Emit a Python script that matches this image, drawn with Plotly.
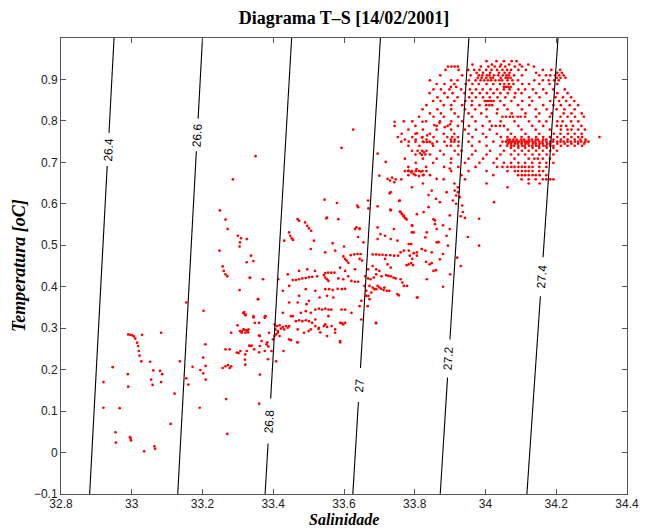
import math
import plotly.graph_objects as go

# ---------------- isopycnals (sigma-t) ----------------
iso_label_text = ["26.4", "26.6", "26.8", "27", "27.2", "27.4"]
iso_sal_bottom = [32.881, 33.130, 33.377, 33.625, 33.872, 34.117]   # salinity at T = -0.1
iso_sal_top = [32.950, 33.200, 33.452, 33.703, 33.953, 34.205]      # salinity at T = 1.0
iso_label_temp = [0.731, 0.766, 0.076, 0.163, 0.227, 0.424]         # label position (T)
iso_gap_half = [0.040, 0.039, 0.054, 0.041, 0.046, 0.047]           # half-length of label gap (T)

x_ticks = [32.8, 33.0, 33.2, 33.4, 33.6, 33.8, 34.0, 34.2, 34.4]
y_ticks = [-0.1, 0, 0.1, 0.2, 0.3, 0.4, 0.5, 0.6, 0.7, 0.8, 0.9]

# ---------------- observations (salinity, temperature) ----------------
pts_low = [
    (32.990, 0.285), (32.996, 0.284), (33.001, 0.283), (33.006, 0.280), (33.010, 0.275),
    (33.015, 0.265), (33.018, 0.257), (33.020, 0.245), (33.022, 0.234), (33.027, 0.220),
    (33.029, 0.284), (33.083, 0.289), (32.946, 0.206), (32.920, 0.170), (32.989, 0.189),
    (32.990, 0.159), (33.052, 0.219), (33.061, 0.198), (33.055, 0.176), (33.059, 0.163),
    (33.080, 0.197), (33.086, 0.189), (33.083, 0.170), (33.121, 0.142), (33.136, 0.220),
    (32.920, 0.108), (32.966, 0.107), (32.954, 0.049), (32.955, 0.024), (32.995, 0.037),
    (32.997, 0.033), (32.998, 0.029), (33.035, 0.003), (33.064, 0.015), (33.066, 0.009),
    (33.110, 0.069),
]

pts_lower_mid = [
    (33.203, 0.342), (33.208, 0.261), (33.202, 0.229), (33.172, 0.207), (33.194, 0.199),
    (33.209, 0.209), (33.202, 0.191), (33.209, 0.176), (33.154, 0.179), (33.160, 0.164),
    (33.192, 0.108), (33.267, 0.129), (33.270, 0.045), (33.257, 0.204), (33.265, 0.208),
    (33.272, 0.211), (33.277, 0.204), (33.281, 0.208), (33.265, 0.249), (33.277, 0.249),
    (33.281, 0.289), (33.307, 0.293), (33.311, 0.291), (33.316, 0.296), (33.321, 0.289),
    (33.327, 0.293), (33.299, 0.307), (33.316, 0.336), (33.321, 0.331), (33.344, 0.326),
    (33.360, 0.313), (33.376, 0.328), (33.360, 0.283), (33.332, 0.258), (33.346, 0.249),
    (33.360, 0.242), (33.383, 0.266), (33.386, 0.256), (33.385, 0.225), (33.388, 0.289),
    (33.395, 0.245), (33.321, 0.237), (33.297, 0.241), (33.307, 0.245), (33.321, 0.212),
    (33.362, 0.188), (33.360, 0.118),
    (33.350, 0.715), (33.286, 0.659), (33.249, 0.584), (33.265, 0.562), (33.271, 0.539),
    (33.300, 0.523), (33.309, 0.517), (33.306, 0.507), (33.305, 0.497), (33.248, 0.487),
    (33.337, 0.475), (33.325, 0.459), (33.257, 0.449), (33.260, 0.438), (33.265, 0.430),
    (33.270, 0.425), (33.334, 0.421), (33.305, 0.392), (33.154, 0.362), (33.318, 0.339),
    (33.322, 0.333),
    (33.306, 0.293), (33.316, 0.297), (33.323, 0.295), (33.329, 0.290), (33.311, 0.289),
    (33.316, 0.337), (33.348, 0.313), (33.357, 0.370), (33.378, 0.329), (33.362, 0.257),
    (33.376, 0.245), (33.334, 0.257), (33.320, 0.224), (33.325, 0.245), (33.302, 0.240),
    (33.408, 0.220), (33.429, 0.245), (33.450, 0.271), (33.468, 0.266), (33.413, 0.289),
    (33.403, 0.281), (33.399, 0.273), (33.510, 0.313), (33.528, 0.298), (33.547, 0.309),
    (33.565, 0.305), (33.500, 0.293), (33.533, 0.290), (33.519, 0.321), (33.556, 0.329),
    (33.575, 0.297), (33.589, 0.269), (33.450, 0.329), (33.690, 0.313), (33.649, 0.321),
    (33.663, 0.378), (33.672, 0.370), (33.677, 0.386), (33.686, 0.394), (33.714, 0.398),
    (33.695, 0.402), (33.728, 0.390), (33.751, 0.382), (33.778, 0.402), (33.806, 0.374),
    (33.667, 0.353), (33.649, 0.366),
]

pts_mid = [
    (33.545, 0.610), (33.580, 0.602), (33.637, 0.596), (33.729, 0.625), (33.756, 0.607),
    (33.839, 0.621), (33.848, 0.632), (33.860, 0.612), (33.731, 0.586),
    (33.758, 0.581), (33.764, 0.576), (33.769, 0.571), (33.774, 0.565), (33.777, 0.562),
    (33.806, 0.575), (33.839, 0.592), (33.857, 0.551), (33.867, 0.508),
    (33.550, 0.565), (33.469, 0.563), (33.473, 0.559), (33.490, 0.555), (33.496, 0.547),
    (33.501, 0.541), (33.507, 0.535), (33.445, 0.531), (33.448, 0.523), (33.452, 0.517),
    (33.456, 0.513), (33.431, 0.511), (33.515, 0.511), (33.568, 0.505), (33.631, 0.539),
    (33.644, 0.541), (33.655, 0.507), (33.668, 0.608), (33.669, 0.589), (33.695, 0.543),
    (33.703, 0.527), (33.716, 0.523), (33.732, 0.515), (33.751, 0.511), (33.793, 0.547),
    (33.797, 0.531), (33.830, 0.519), (33.790, 0.503),
    (33.506, 0.491), (33.547, 0.483), (33.575, 0.487), (33.598, 0.473), (33.603, 0.467),
    (33.607, 0.463), (33.612, 0.458),
    (33.619, 0.476), (33.629, 0.478), (33.638, 0.479), (33.647, 0.479), (33.644, 0.467),
    (33.651, 0.463),
    (33.681, 0.478), (33.691, 0.478), (33.700, 0.477), (33.709, 0.477), (33.719, 0.476),
    (33.731, 0.476), (33.742, 0.475), (33.753, 0.475),
    (33.760, 0.483), (33.769, 0.487), (33.783, 0.487), (33.797, 0.481), (33.806, 0.483),
    (33.820, 0.491), (33.830, 0.487), (33.786, 0.475), (33.793, 0.467),
    (33.777, 0.452), (33.783, 0.454), (33.790, 0.457), (33.795, 0.452),
    (33.832, 0.460), (33.848, 0.457), (33.842, 0.454), (33.853, 0.438), (33.871, 0.466),
    (33.834, 0.418), (33.716, 0.467), (33.723, 0.454), (33.732, 0.446),
    (33.719, 0.428), (33.725, 0.426), (33.732, 0.425), (33.740, 0.422), (33.746, 0.420),
    (33.760, 0.418), (33.765, 0.410), (33.769, 0.402),
    (33.681, 0.450), (33.691, 0.442), (33.700, 0.438), (33.668, 0.442), (33.660, 0.425),
    (33.668, 0.420), (33.675, 0.418), (33.684, 0.422),
    (33.672, 0.402), (33.681, 0.398), (33.691, 0.394), (33.700, 0.398), (33.705, 0.395),
    (33.712, 0.392), (33.721, 0.390), (33.691, 0.430), (33.706, 0.425),
    (33.658, 0.402), (33.663, 0.390), (33.669, 0.378), (33.691, 0.312), (33.755, 0.379),
    (33.808, 0.374),
    (33.547, 0.433), (33.555, 0.434), (33.564, 0.434), (33.573, 0.434), (33.543, 0.428),
    (33.547, 0.422), (33.552, 0.418), (33.556, 0.414),
    (33.455, 0.416), (33.464, 0.416), (33.473, 0.418), (33.482, 0.420), (33.492, 0.421),
    (33.501, 0.423), (33.510, 0.424), (33.524, 0.425),
    (33.518, 0.438), (33.496, 0.442), (33.473, 0.438), (33.441, 0.430), (33.414, 0.418),
    (33.427, 0.390), (33.445, 0.402),
    (33.584, 0.420), (33.598, 0.418), (33.612, 0.425), (33.621, 0.414), (33.631, 0.412),
    (33.640, 0.412), (33.603, 0.438), (33.631, 0.442), (33.589, 0.446),
    (33.547, 0.394), (33.558, 0.394), (33.568, 0.392), (33.582, 0.395), (33.594, 0.394),
    (33.603, 0.395), (33.552, 0.378), (33.570, 0.374), (33.519, 0.390), (33.492, 0.394),
    (33.473, 0.378), (33.501, 0.366), (33.531, 0.374),
    (33.445, 0.362), (33.469, 0.362), (33.494, 0.358),
    (33.519, 0.345), (33.529, 0.347), (33.538, 0.345), (33.547, 0.347), (33.556, 0.345),
    (33.564, 0.345), (33.593, 0.345), (33.603, 0.345), (33.621, 0.337), (33.644, 0.353),
    (33.478, 0.337), (33.492, 0.341), (33.506, 0.337), (33.427, 0.337), (33.455, 0.329),
    (33.464, 0.317), (33.473, 0.319), (33.482, 0.317), (33.492, 0.319), (33.501, 0.317),
    (33.404, 0.309), (33.410, 0.305), (33.418, 0.307), (33.427, 0.303), (33.436, 0.305),
    (33.445, 0.305), (33.406, 0.297), (33.413, 0.293), (33.422, 0.299), (33.431, 0.297),
    (33.441, 0.301), (33.408, 0.285), (33.418, 0.281),
    (33.519, 0.305), (33.529, 0.301), (33.543, 0.305), (33.552, 0.303), (33.589, 0.313),
    (33.594, 0.312), (33.598, 0.309), (33.603, 0.313), (33.469, 0.297), (33.487, 0.289),
    (33.506, 0.297), (33.575, 0.289), (33.552, 0.281), (33.589, 0.266), (33.469, 0.266),
    (33.445, 0.273),
    (33.334, 0.422), (33.371, 0.418), (33.357, 0.370), (33.344, 0.329), (33.376, 0.325),
    (33.330, 0.297), (33.362, 0.281), (33.381, 0.261), (33.339, 0.258), (33.367, 0.269),
    (33.344, 0.462), (33.325, 0.515),
    (33.920, 0.470), (33.930, 0.450), (33.950, 0.520), (33.900, 0.430), (33.880, 0.400),
    (33.860, 0.440),
]

pts_upper_mid = [
    (33.626, 0.779), (33.593, 0.735), (33.743, 0.798), (33.769, 0.799), (33.822, 0.798),
    (33.855, 0.790), (33.870, 0.795), (33.885, 0.785), (33.900, 0.792),
    (33.806, 0.770), (33.820, 0.760), (33.835, 0.765), (33.850, 0.745), (33.825, 0.749),
    (33.834, 0.749), (33.843, 0.749),
    (33.815, 0.722), (33.820, 0.718), (33.826, 0.724), (33.830, 0.719),
    (33.783, 0.680), (33.790, 0.676), (33.797, 0.672), (33.805, 0.684), (33.812, 0.667),
    (33.818, 0.678), (33.825, 0.670),
    (33.723, 0.660), (33.730, 0.656), (33.736, 0.663), (33.742, 0.652), (33.746, 0.659),
    (33.718, 0.701), (33.695, 0.721), (33.700, 0.668), (33.732, 0.628), (33.758, 0.608),
    (33.760, 0.580), (33.764, 0.575), (33.768, 0.570), (33.772, 0.566),
    (33.695, 0.594), (33.792, 0.548), (33.732, 0.584), (33.825, 0.580), (33.853, 0.563),
    (33.871, 0.604), (33.890, 0.628), (33.862, 0.660), (33.899, 0.685), (33.640, 0.592),
    (33.584, 0.563), (33.552, 0.567), (33.635, 0.543), (33.644, 0.539), (33.741, 0.539),
    (33.695, 0.515), (33.792, 0.531), (33.783, 0.503), (33.640, 0.520), (33.600, 0.497),
    (33.862, 0.539), (33.862, 0.507), (33.899, 0.572), (33.899, 0.539),
    (33.913, 0.632), (33.922, 0.628), (33.917, 0.620), (33.927, 0.616), (33.917, 0.600),
    (33.934, 0.596), (33.936, 0.580), (33.908, 0.608), (33.930, 0.570), (33.942, 0.566),
    (33.857, 0.560), (33.880, 0.548), (33.834, 0.531), (33.890, 0.523), (33.866, 0.507),
    (33.894, 0.499), (33.820, 0.491), (33.848, 0.483), (33.806, 0.475), (33.880, 0.479),
    (33.982, 0.564), (34.024, 0.604), (33.982, 0.499),
]

# warm, salty cloud: (temperature of a sampled row, salinities on that row)
rows_warm = [
    (0.944, [34.003, 34.031, 34.052, 34.074, 34.088]),
    (0.936, [33.963, 34.018, 34.044, 34.067, 34.097, 34.121]),
    (0.931, [33.894, 33.904, 33.913, 33.922, 33.987, 34.008, 34.026, 34.041, 34.056,
             34.083, 34.103, 34.137]),
    (0.923, [33.887, 33.924, 33.951, 33.968, 33.983, 34.002, 34.017, 34.033, 34.048,
             34.061, 34.072, 34.093, 34.114, 34.162, 34.186, 34.211]),
    (0.916, [33.975, 33.993, 34.013, 34.038, 34.054, 34.068, 34.143, 34.203, 34.216]),
    (0.910, [33.872, 33.934, 33.958, 33.981, 33.991, 34.004, 34.011, 34.024, 34.036,
             34.049, 34.059, 34.066, 34.081, 34.103, 34.152, 34.171, 34.183, 34.197,
             34.208, 34.221]),
    (0.904, [33.978, 33.989, 34.002, 34.014, 34.021, 34.043, 34.057, 34.063, 34.071,
             34.201, 34.212, 34.226]),
    (0.898, [33.843, 33.903, 33.921, 33.953, 33.972, 33.986, 33.996, 34.007, 34.016,
             34.028, 34.039, 34.047, 34.062, 34.076, 34.092, 34.138, 34.162, 34.179,
             34.194, 34.207]),
    (0.889, [33.862, 33.884, 33.912, 33.944, 33.963, 33.981, 34.003, 34.022, 34.041,
             34.053, 34.066, 34.079, 34.104, 34.123, 34.152, 34.181, 34.203]),
    (0.882, [33.902, 33.917, 34.052, 34.058, 34.064, 34.071]),
    (0.876, [33.853, 33.874, 33.898, 33.931, 33.956, 33.973, 33.992, 34.014, 34.033,
             34.052, 34.068, 34.093, 34.112, 34.134, 34.163, 34.192, 34.224]),
    (0.867, [33.842, 33.884, 33.907, 33.941, 33.962, 33.984, 34.004, 34.023, 34.042,
             34.063, 34.084, 34.102, 34.143, 34.172, 34.203, 34.232]),
    (0.857, [33.864, 33.893, 33.921, 33.954, 33.973, 33.993, 34.012, 34.034, 34.056,
             34.082, 34.124, 34.153, 34.198, 34.219, 34.242]),
    (0.848, [33.852, 33.873, 33.912, 33.943, 33.962, 33.998, 34.004, 34.009, 34.016,
             34.023, 34.042, 34.073, 34.104, 34.132, 34.183, 34.208, 34.228, 34.251]),
    (0.838, [33.833, 33.882, 33.903, 33.934, 33.961, 33.983, 34.002, 34.011, 34.019,
             34.053, 34.092, 34.124, 34.163, 34.192, 34.213, 34.238, 34.262]),
    (0.828, [33.822, 33.864, 33.903, 33.942, 33.971, 34.003, 34.034, 34.062, 34.103,
             34.142, 34.173, 34.201, 34.223, 34.252]),
    (0.818, [33.843, 33.874, 33.913, 33.952, 33.988, 34.032, 34.074, 34.113, 34.152,
             34.187, 34.221, 34.243, 34.272]),
    (0.810, [33.812, 33.853, 33.882, 33.923, 33.962, 34.003, 34.048, 34.058, 34.069,
             34.078, 34.091, 34.099, 34.112, 34.143, 34.182, 34.212, 34.232, 34.253,
             34.278]),
    (0.799, [33.793, 33.832, 33.871, 33.903, 33.934, 33.972, 34.012, 34.043, 34.082,
             34.123, 34.152, 34.172, 34.203, 34.218, 34.242, 34.262]),
    (0.788, [33.743, 33.802, 33.862, 33.893, 33.922, 33.953, 33.992, 34.018, 34.029,
             34.041, 34.052, 34.093, 34.132, 34.163, 34.202, 34.214, 34.228, 34.247,
             34.271]),
    (0.779, [33.782, 33.823, 33.862, 33.903, 33.942, 33.973, 34.012, 34.063, 34.102,
             34.142, 34.182, 34.213, 34.232, 34.243, 34.262, 34.281]),
    (0.769, [33.763, 33.802, 33.843, 33.882, 33.912, 33.952, 33.993, 34.032, 34.072,
             34.113, 34.152, 34.193, 34.212, 34.233, 34.252, 34.272]),
    (0.761, [33.752, 33.793, 33.822, 33.853, 33.892, 33.906, 33.922, 33.963, 34.002,
             34.043, 34.062, 34.083, 34.102, 34.122, 34.143, 34.163, 34.182, 34.203,
             34.222, 34.243, 34.262, 34.273, 34.322]),
    (0.755, [33.772, 33.803, 33.833, 33.902, 33.913, 34.062, 34.068, 34.079, 34.088,
             34.101, 34.109, 34.122, 34.131, 34.142, 34.148, 34.163, 34.172, 34.192,
             34.213, 34.232, 34.252, 34.268, 34.283]),
    (0.750, [33.762, 33.783, 33.802, 33.823, 33.842, 33.863, 33.884, 33.903, 33.912,
             33.924, 33.952, 33.983, 34.022, 34.048, 34.058, 34.066, 34.071, 34.077,
             34.084, 34.091, 34.096, 34.104, 34.112, 34.117, 34.124, 34.133, 34.141,
             34.152, 34.161, 34.172, 34.183, 34.191, 34.203, 34.212, 34.221, 34.232,
             34.241, 34.253, 34.262, 34.271, 34.282, 34.291]),
    (0.745, [34.063, 34.072, 34.083, 34.091, 34.102, 34.113, 34.121, 34.134, 34.142,
             34.153, 34.162, 34.174, 34.182, 34.203, 34.224, 34.243, 34.262, 34.279]),
    (0.740, [33.782, 33.813, 33.852, 33.891, 33.902, 33.923, 33.962, 34.003, 34.042,
             34.061, 34.073, 34.081, 34.093, 34.104, 34.111, 34.123, 34.132, 34.143,
             34.151, 34.164, 34.172, 34.183, 34.192, 34.213, 34.232, 34.252, 34.273]),
    (0.735, [34.072, 34.093, 34.112, 34.133, 34.152, 34.173, 34.192]),
    (0.728, [33.792, 33.808, 33.821, 33.833, 33.872, 33.913, 33.932, 33.972, 34.013,
             34.052, 34.082, 34.103, 34.122, 34.143, 34.162, 34.183, 34.202]),
    (0.719, [33.802, 33.843, 33.882, 33.923, 33.962, 34.003, 34.042, 34.072, 34.093,
             34.112, 34.133, 34.152, 34.173, 34.192]),
    (0.709, [33.772, 33.823, 33.862, 33.903, 33.952, 33.993, 34.032, 34.082, 34.122,
             34.138, 34.148, 34.162, 34.182]),
    (0.699, [33.803, 33.852, 33.902, 33.942, 33.983, 34.023, 34.052, 34.072, 34.093,
             34.112, 34.132, 34.153, 34.172, 34.192]),
    (0.689, [33.782, 33.832, 33.883, 33.923, 33.972, 34.033, 34.048, 34.062, 34.073,
             34.082, 34.093, 34.103, 34.112, 34.123, 34.133, 34.152, 34.172]),
    (0.679, [33.772, 33.781, 33.792, 33.803, 33.812, 33.822, 33.833, 33.903, 33.952,
             34.003, 34.062, 34.083, 34.092, 34.103, 34.113, 34.122, 34.133, 34.152,
             34.163]),
    (0.669, [33.782, 33.802, 33.823, 33.843, 33.932, 34.022, 34.092, 34.103, 34.112,
             34.122, 34.133, 34.142, 34.153, 34.172]),
    (0.659, [33.762, 33.882, 33.942, 34.102, 34.122, 34.142, 34.162, 34.172, 34.183,
             34.192]),
    (0.649, [33.823, 33.912, 34.003, 34.122, 34.153]),
    (0.640, [33.792, 33.922, 34.062]),
]

# ---------------- build traces ----------------
sal, temp = [], []
for group in (pts_low, pts_lower_mid, pts_mid, pts_upper_mid):
    for s, t in group:
        sal.append(s)
        temp.append(t)
for t, svals in rows_warm:
    for s in svals:
        sal.append(s)
        temp.append(t)

T_MIN, T_MAX = -0.1, 1.0
X_RANGE = [32.8, 34.4]
Y_RANGE = [-0.1, 1.0]
# the page body adds an 8px offset, so the figure is sized to fit the window
W, H = 643, 520
ML, MR, MT, MB = 53, 14, 30, 34
plot_w = W - ML - MR
plot_h = H - MT - MB


def sal_at(i, t):
    f = (t - T_MIN) / (T_MAX - T_MIN)
    return iso_sal_bottom[i] + (iso_sal_top[i] - iso_sal_bottom[i]) * f


line_x, line_y = [], []
annotations = []
for i, lab in enumerate(iso_label_text):
    lo = iso_label_temp[i] - iso_gap_half[i]
    hi = iso_label_temp[i] + iso_gap_half[i]
    line_x += [sal_at(i, T_MIN), sal_at(i, lo), None, sal_at(i, hi), sal_at(i, T_MAX), None]
    line_y += [T_MIN, lo, None, hi, T_MAX, None]
    dx_px = (iso_sal_top[i] - iso_sal_bottom[i]) / (X_RANGE[1] - X_RANGE[0]) * plot_w
    dy_px = (T_MAX - T_MIN) / (Y_RANGE[1] - Y_RANGE[0]) * plot_h
    ang = -90 + math.degrees(math.atan2(dx_px, dy_px))
    annotations.append(dict(
        x=sal_at(i, iso_label_temp[i]), y=iso_label_temp[i], xref="x", yref="y",
        text=lab, showarrow=False, textangle=ang,
        font=dict(family="Liberation Sans, Arial", size=12, color="black"),
        xanchor="center", yanchor="middle"))

fig = go.Figure()
fig.add_trace(go.Scatter(
    x=sal, y=temp, mode="markers",
    marker=dict(color="#ff0000", size=2.7, line=dict(width=0)),
    hoverinfo="skip", showlegend=False))
fig.add_trace(go.Scatter(
    x=line_x, y=line_y, mode="lines",
    line=dict(color="black", width=1.1),
    hoverinfo="skip", showlegend=False))

annotations.append(dict(
    x=0.5, y=0, xref="paper", yref="paper", yshift=-25,
    text="<b><i>Salinidade</i></b>",
    showarrow=False, xanchor="center", yanchor="middle",
    font=dict(family="Liberation Serif, Times New Roman", size=16, color="black")))
annotations.append(dict(
    x=0, y=0.5, xref="paper", yref="paper", xshift=-42,
    text="<b><i>Temperatura [oC]</i></b>",
    showarrow=False, xanchor="center", yanchor="middle", textangle=-90,
    font=dict(family="Liberation Serif, Times New Roman", size=18, color="black")))

axis_common = dict(
    showgrid=False, zeroline=False, showline=True, linecolor="#555555", linewidth=1,
    mirror="ticks", ticks="inside", ticklen=5, tickcolor="#555555", tickwidth=1,
    tickfont=dict(family="Liberation Sans, Arial", size=12, color="#222222"),
)

fig.update_layout(
    width=W, height=H,
    margin=dict(l=ML, r=MR, t=MT, b=MB),
    paper_bgcolor="white", plot_bgcolor="white",
    title=dict(text="<b>Diagrama T–S [14/02/2001]</b>", x=0.5, xref="paper",
               y=1 - 10 / H, yref="container", yanchor="middle", xanchor="center",
               font=dict(family="Liberation Serif, Times New Roman", size=18, color="black")),
    xaxis=dict(range=X_RANGE, tickvals=x_ticks, ticklabelstandoff=-1,
               ticktext=[f"{v:g}" for v in x_ticks], **axis_common),
    yaxis=dict(range=Y_RANGE, tickvals=y_ticks,
               ticktext=[("−0.1" if v < 0 else f"{v:g}") for v in y_ticks], **axis_common),
    annotations=annotations,
)

fig.write_html("out.html")
